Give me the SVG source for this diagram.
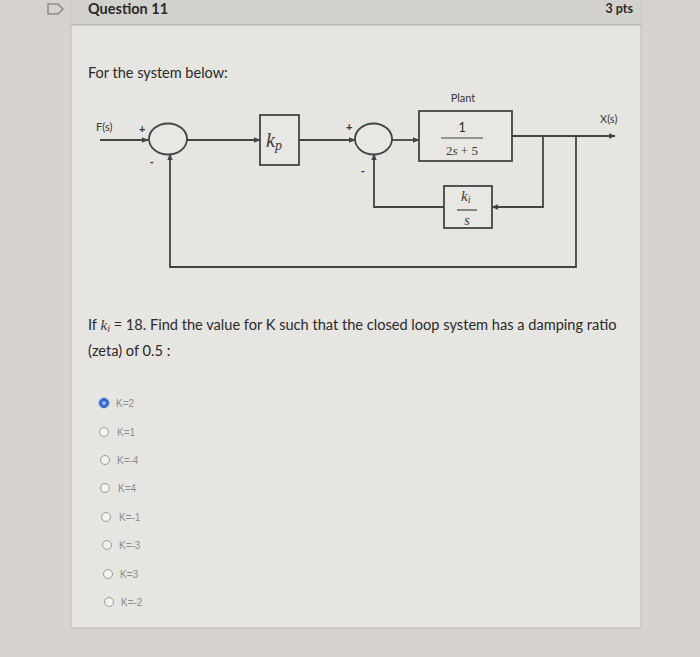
<svg xmlns="http://www.w3.org/2000/svg" width="700" height="657" viewBox="0 0 700 657">
<defs>
<style>
.t{font-family:Lato,"Liberation Sans",sans-serif;fill:#2a2a2a}
.lbl{font-family:Lato,"Liberation Sans",sans-serif;fill:#3a3a3a;font-size:11px}
.pm{font-family:"Liberation Sans",Arial,sans-serif;fill:#3a3a3a;font-size:11px;font-weight:bold}
.m{font-family:"Liberation Serif","DejaVu Serif",serif;font-style:italic;fill:#3a3a3a}
.w{stroke:#444;stroke-width:1.8;fill:none}
.blk{stroke:#444;stroke-width:1.8;fill:#e8e7e4}
.opt{font-family:"Liberation Sans",Arial,sans-serif;fill:#8c8c8c;font-size:10px}
.rb{fill:#f2f2f0;stroke:#9a9a9a;stroke-width:1}
</style>
<marker id="ar" viewBox="0 0 10 10" refX="9" refY="5" markerWidth="7" markerHeight="7" orient="auto" markerUnits="userSpaceOnUse">
<path d="M0,1 L10,5 L0,9 Z" fill="#444"/>
</marker>
</defs>
<rect width="700" height="657" fill="#d6d3cf"/>
<g id="card">
<rect x="71" y="0" width="570" height="628" fill="#e6e5e2" stroke="#bdbab6" stroke-width="1"/>
<rect x="71" y="0" width="570" height="25" fill="#d3d1cd"/>
<line x1="71" y1="25" x2="641" y2="25" stroke="#a9a6a2" stroke-width="1"/>
</g>
<g id="flag-icon">
<path d="M48,4 L58,4 L63,9 L58,14 L48,14 Z" fill="none" stroke="#8f8c88" stroke-width="1.5"/>
</g>
<g id="header">
<text class="t" x="88" y="14" font-size="14.5" font-weight="bold">Question 11</text>
<text class="t" x="633" y="13" font-size="12.5" font-weight="bold" text-anchor="end">3 pts</text>
</g>
<text class="t" x="88" y="78" font-size="14.5">For the system below:</text>
<g id="connectors">
<line class="w" x1="100" y1="140" x2="148" y2="140" marker-end="url(#ar)"/>
<line class="w" x1="187" y1="140" x2="260" y2="140" marker-end="url(#ar)"/>
<line class="w" x1="299" y1="140" x2="355" y2="140" marker-end="url(#ar)"/>
<line class="w" x1="392" y1="140" x2="419" y2="140" marker-end="url(#ar)"/>
<line class="w" x1="512" y1="136" x2="615" y2="136" marker-end="url(#ar)"/>
<polyline class="w" points="543,136 543,207 492,207" marker-end="url(#ar)"/>
<polyline class="w" points="444,207 374,207 374,154" marker-end="url(#ar)"/>
<polyline class="w" points="576,136 576,267 170,267 170,154" marker-end="url(#ar)"/>
</g>
<g id="labels">
<text class="lbl" x="96" y="131">F(s)</text>
<text class="lbl" x="600" y="123">X(s)</text>
<text class="lbl" x="463" y="102" text-anchor="middle">Plant</text>
<text class="pm" x="139" y="133">+</text>
<text class="pm" x="150" y="165">-</text>
<text class="pm" x="346" y="131">+</text>
<text class="pm" x="361" y="174">-</text>
</g>
<g id="sum1"><ellipse class="blk" cx="168" cy="139" rx="19" ry="15.5"/></g>
<g id="kp">
<rect class="blk" x="260" y="115" width="39" height="50"/>
<text class="m" x="266" y="147" font-size="20">k<tspan font-size="14" dy="3">p</tspan></text>
</g>
<g id="sum2"><ellipse class="blk" cx="373.5" cy="139" rx="18.5" ry="15.5"/></g>
<g id="plant">
<rect class="blk" x="419" y="111" width="93" height="50"/>
<text class="t" x="462" y="132" font-size="12.5" text-anchor="middle" fill="#3a3a3a">1</text>
<line x1="441" y1="138" x2="483" y2="138" stroke="#444" stroke-width="1"/>
<text class="m" x="462" y="155" font-size="13" text-anchor="middle"><tspan font-style="normal">2</tspan>s <tspan font-style="normal">+ 5</tspan></text>
</g>
<g id="integral">
<rect class="blk" x="444" y="186" width="48" height="42"/>
<text class="m" x="461" y="201" font-size="15">k<tspan font-size="10" dy="2">i</tspan></text>
<line x1="457" y1="210" x2="477" y2="210" stroke="#444" stroke-width="1.2"/>
<text class="m" x="467" y="225" font-size="14" text-anchor="middle">s</text>
</g>
<g id="question">
<text class="t" x="88" y="330" font-size="14.6">If <tspan class="m" font-size="15">k<tspan font-size="10" dy="2">i</tspan></tspan><tspan dy="-2"> = 18. Find the value for K such that the closed loop system has a damping ratio</tspan></text>
<text class="t" x="88" y="356" font-size="14.6">(zeta) of 0.5 :</text>
</g>
<g id="options">
<circle cx="104" cy="403" r="6" fill="#9fb7e6" opacity="0.5"/>
<circle cx="104" cy="403" r="4.5" fill="#3d72d8" stroke="#2a5cc0" stroke-width="1"/>
<circle cx="104" cy="403" r="1.6" fill="#fff" opacity="0.7"/>
<text class="opt" x="116" y="407">K=2</text>
<circle class="rb" cx="104" cy="432" r="4.5"/><text class="opt" x="117" y="436">K=1</text>
<circle class="rb" cx="105" cy="460" r="4.5"/><text class="opt" x="117" y="464">K=-4</text>
<circle class="rb" cx="105" cy="488" r="4.5"/><text class="opt" x="118" y="492">K=4</text>
<circle class="rb" cx="106" cy="517" r="4.5"/><text class="opt" x="119" y="521">K=-1</text>
<circle class="rb" cx="107" cy="545" r="4.5"/><text class="opt" x="119" y="549">K=-3</text>
<circle class="rb" cx="108" cy="574" r="4.5"/><text class="opt" x="120" y="578">K=3</text>
<circle class="rb" cx="109" cy="602" r="4.5"/><text class="opt" x="121" y="606">K=-2</text>
</g>
</svg>
